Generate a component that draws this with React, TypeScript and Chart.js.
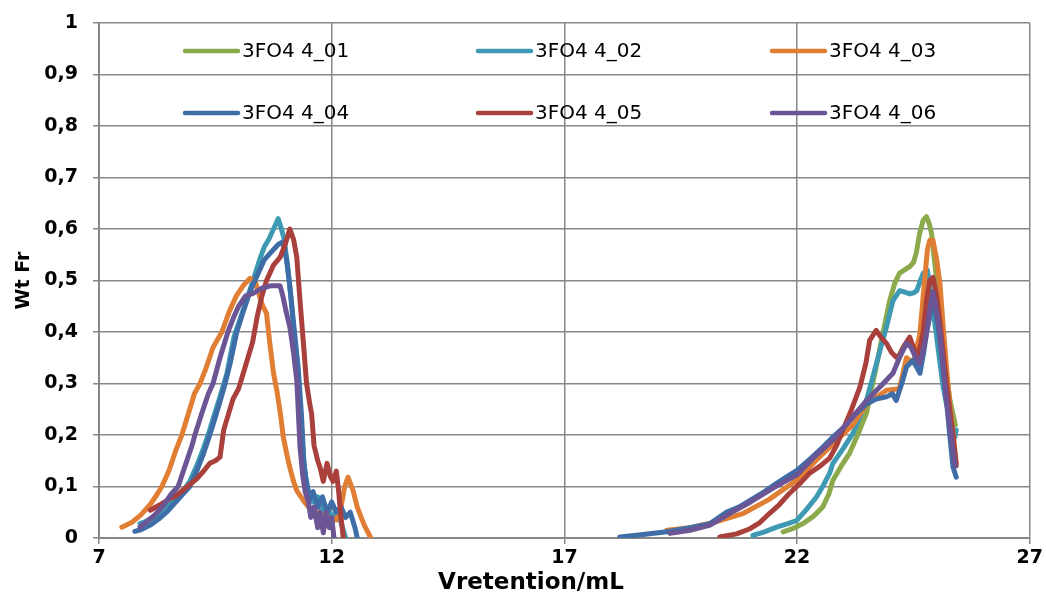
import React, { useEffect, useRef } from "react";
import { Chart, registerables } from "chart.js";

Chart.register(...registerables);

type Pt = [number, number];

const seriesNames = ["3FO4 4_01", "3FO4 4_02", "3FO4 4_03", "3FO4 4_04", "3FO4 4_05", "3FO4 4_06"];
const seriesColors = ["#8AAA4B", "#3E9AB3", "#E07E33", "#3E6DA8", "#A9403C", "#6C5595"];

const xTicks = [7, 12, 17, 22, 27];
const yTicks = [0, 0.1, 0.2, 0.3, 0.4, 0.5, 0.6, 0.7, 0.8, 0.9, 1];
const xTitle = "Vretention/mL";
const yTitle = "Wt Fr";

// 3FO4 4_01
const s01Left: Pt[] = [];
const s01Right: Pt[] = [
  [21.7, 0.012], [21.9, 0.018], [22.13, 0.028], [22.35, 0.042], [22.55, 0.06], [22.68, 0.085],
  [22.77, 0.112], [22.95, 0.14], [23.13, 0.165], [23.3, 0.2], [23.49, 0.242], [23.6, 0.29],
  [23.7, 0.332], [23.85, 0.4], [23.99, 0.461], [24.1, 0.495], [24.2, 0.514], [24.3, 0.52],
  [24.42, 0.527], [24.5, 0.535], [24.56, 0.553], [24.63, 0.59], [24.71, 0.617], [24.78, 0.624],
  [24.84, 0.61], [24.89, 0.591], [24.95, 0.54], [25.0, 0.5], [25.07, 0.43], [25.14, 0.37],
  [25.21, 0.32], [25.28, 0.27], [25.35, 0.24], [25.4, 0.22],
];

// 3FO4 4_02
const s02Left: Pt[] = [
  [7.88, 0.028], [8.0, 0.032], [8.2, 0.042], [8.4, 0.055], [8.6, 0.072], [8.8, 0.09],
  [8.95, 0.11], [9.1, 0.14], [9.25, 0.175], [9.38, 0.21], [9.5, 0.245], [9.62, 0.28],
  [9.75, 0.32], [9.9, 0.39], [10.05, 0.43], [10.2, 0.47], [10.31, 0.5], [10.45, 0.54],
  [10.55, 0.565], [10.65, 0.58], [10.75, 0.6], [10.85, 0.62], [10.92, 0.6], [10.98, 0.58],
  [11.05, 0.53], [11.12, 0.47], [11.2, 0.39], [11.28, 0.3], [11.35, 0.2], [11.42, 0.13],
  [11.5, 0.09], [11.6, 0.07], [11.7, 0.08], [11.8, 0.05], [11.9, 0.06], [12.0, 0.04],
  [12.1, 0.05], [12.2, 0.03], [12.3, 0.0],
];
const s02Right: Pt[] = [
  [21.05, 0.005], [21.3, 0.012], [21.56, 0.021], [21.8, 0.028], [21.99, 0.034], [22.2, 0.055],
  [22.42, 0.08], [22.55, 0.1], [22.7, 0.126], [22.77, 0.145], [23.0, 0.175], [23.2, 0.203],
  [23.35, 0.235], [23.49, 0.267], [23.62, 0.31], [23.78, 0.364], [23.92, 0.41], [24.06, 0.461],
  [24.2, 0.48], [24.3, 0.478], [24.42, 0.474], [24.5, 0.476], [24.57, 0.48], [24.65, 0.5],
  [24.71, 0.514], [24.8, 0.52], [24.88, 0.47], [24.99, 0.397], [25.07, 0.34], [25.14, 0.293],
  [25.21, 0.26], [25.28, 0.235], [25.35, 0.205], [25.39, 0.196], [25.42, 0.21],
];

// 3FO4 4_03
const s03Left: Pt[] = [
  [7.49, 0.021], [7.7, 0.03], [7.9, 0.045], [8.1, 0.065], [8.25, 0.085], [8.35, 0.1],
  [8.5, 0.13], [8.65, 0.17], [8.78, 0.2], [8.95, 0.25], [9.05, 0.28], [9.17, 0.3],
  [9.3, 0.33], [9.45, 0.37], [9.64, 0.4], [9.8, 0.44], [9.95, 0.47], [10.1, 0.49],
  [10.24, 0.504], [10.35, 0.5], [10.45, 0.47], [10.52, 0.45], [10.6, 0.436], [10.67, 0.378],
  [10.75, 0.32], [10.82, 0.287], [10.9, 0.24], [10.96, 0.196], [11.03, 0.165], [11.1, 0.137],
  [11.18, 0.11], [11.25, 0.092], [11.39, 0.073], [11.5, 0.06], [11.7, 0.05], [11.9, 0.04],
  [12.1, 0.035], [12.2, 0.06], [12.28, 0.1], [12.35, 0.118], [12.46, 0.092], [12.55, 0.06],
  [12.6, 0.048], [12.7, 0.025], [12.84, 0.0],
];
const s03Right: Pt[] = [
  [19.2, 0.015], [19.7, 0.02], [20.2, 0.03], [20.85, 0.048], [21.4, 0.075], [21.99, 0.112],
  [22.4, 0.15], [22.8, 0.185], [23.2, 0.22], [23.5, 0.26], [23.92, 0.287], [24.2, 0.29],
  [24.35, 0.35], [24.5, 0.34], [24.64, 0.397], [24.72, 0.48], [24.8, 0.56], [24.85, 0.578],
  [24.92, 0.578], [25.0, 0.54], [25.07, 0.494], [25.14, 0.41], [25.21, 0.332], [25.28, 0.26],
  [25.35, 0.203], [25.42, 0.145],
];

// 3FO4 4_04
const s04Left: Pt[] = [
  [7.77, 0.013], [7.9, 0.016], [8.1, 0.025], [8.3, 0.038], [8.45, 0.05], [8.6, 0.065],
  [8.75, 0.08], [8.95, 0.1], [9.1, 0.13], [9.25, 0.165], [9.38, 0.2], [9.5, 0.235],
  [9.6, 0.265], [9.71, 0.3], [9.82, 0.34], [9.96, 0.4], [10.1, 0.44], [10.25, 0.48],
  [10.4, 0.51], [10.55, 0.54], [10.7, 0.555], [10.85, 0.57], [10.95, 0.575], [11.03, 0.54],
  [11.1, 0.49], [11.2, 0.4], [11.28, 0.33], [11.35, 0.24], [11.4, 0.15], [11.45, 0.11],
  [11.53, 0.075], [11.6, 0.09], [11.7, 0.06], [11.8, 0.08], [11.9, 0.05], [12.0, 0.07],
  [12.1, 0.05], [12.2, 0.06], [12.3, 0.04], [12.4, 0.05], [12.5, 0.02], [12.55, 0.0],
];
const s04Right: Pt[] = [
  [18.19, 0.002], [18.6, 0.006], [19.2, 0.012], [19.7, 0.02], [20.13, 0.028], [20.48, 0.05],
  [20.75, 0.06], [20.99, 0.073], [21.3, 0.09], [21.56, 0.106], [21.8, 0.12], [21.99, 0.131],
  [22.3, 0.155], [22.55, 0.176], [22.77, 0.196], [23.0, 0.215], [23.25, 0.24], [23.49, 0.26],
  [23.7, 0.27], [23.92, 0.274], [24.05, 0.28], [24.13, 0.267], [24.25, 0.3], [24.35, 0.332],
  [24.49, 0.345], [24.58, 0.33], [24.64, 0.32], [24.72, 0.36], [24.78, 0.397], [24.85, 0.43],
  [24.92, 0.461], [24.98, 0.44], [25.07, 0.384], [25.14, 0.33], [25.21, 0.267], [25.28, 0.2],
  [25.35, 0.138], [25.42, 0.118],
];

// 3FO4 4_05
const s05Left: Pt[] = [
  [8.1, 0.054], [8.3, 0.064], [8.5, 0.075], [8.67, 0.083], [8.9, 0.1], [9.1, 0.115],
  [9.25, 0.13], [9.38, 0.145], [9.5, 0.15], [9.6, 0.157], [9.68, 0.21], [9.78, 0.24],
  [9.88, 0.27], [10.0, 0.29], [10.1, 0.32], [10.2, 0.35], [10.3, 0.38], [10.4, 0.43],
  [10.5, 0.47], [10.6, 0.5], [10.75, 0.53], [10.89, 0.545], [11.0, 0.57], [11.1, 0.6],
  [11.18, 0.58], [11.25, 0.545], [11.32, 0.46], [11.4, 0.37], [11.46, 0.3], [11.53, 0.26],
  [11.57, 0.24], [11.62, 0.18], [11.7, 0.15], [11.75, 0.137], [11.82, 0.11], [11.9, 0.145],
  [11.97, 0.12], [12.03, 0.11], [12.1, 0.13], [12.15, 0.09], [12.2, 0.04], [12.25, 0.0],
];
const s05Right: Pt[] = [
  [20.34, 0.002], [20.7, 0.008], [20.99, 0.018], [21.2, 0.03], [21.41, 0.048], [21.62, 0.065],
  [21.84, 0.087], [22.05, 0.105], [22.27, 0.126], [22.5, 0.14], [22.7, 0.155], [22.85, 0.18],
  [22.98, 0.209], [23.15, 0.245], [23.35, 0.293], [23.48, 0.34], [23.56, 0.384], [23.7, 0.403],
  [23.8, 0.39], [23.92, 0.378], [24.03, 0.36], [24.13, 0.351], [24.2, 0.355], [24.28, 0.37],
  [24.42, 0.39], [24.5, 0.37], [24.6, 0.35], [24.71, 0.4], [24.78, 0.46], [24.85, 0.5],
  [24.92, 0.506], [25.0, 0.47], [25.07, 0.42], [25.14, 0.36], [25.21, 0.3], [25.28, 0.25],
  [25.35, 0.2], [25.42, 0.14],
];

// 3FO4 4_06
const s06Left: Pt[] = [
  [7.88, 0.021], [8.0, 0.03], [8.2, 0.045], [8.4, 0.065], [8.55, 0.085], [8.7, 0.1],
  [8.85, 0.14], [9.0, 0.18], [9.06, 0.2], [9.2, 0.24], [9.35, 0.28], [9.45, 0.3],
  [9.6, 0.35], [9.77, 0.4], [9.9, 0.43], [10.0, 0.45], [10.15, 0.47], [10.31, 0.475],
  [10.5, 0.485], [10.7, 0.49], [10.89, 0.49], [10.95, 0.47], [11.02, 0.44], [11.1, 0.41],
  [11.18, 0.36], [11.25, 0.306], [11.32, 0.176], [11.38, 0.12], [11.43, 0.09], [11.5, 0.07],
  [11.55, 0.04], [11.62, 0.06], [11.7, 0.02], [11.75, 0.05], [11.82, 0.01], [11.88, 0.05],
  [11.95, 0.02], [12.0, 0.04], [12.05, 0.0],
];
const s06Right: Pt[] = [
  [19.27, 0.009], [19.7, 0.015], [20.13, 0.025], [20.5, 0.045], [21.0, 0.07], [21.5, 0.098],
  [21.99, 0.122], [22.4, 0.16], [22.77, 0.19], [23.1, 0.225], [23.49, 0.267], [23.8, 0.295],
  [24.06, 0.32], [24.2, 0.35], [24.35, 0.378], [24.45, 0.37], [24.55, 0.35], [24.64, 0.339],
  [24.72, 0.37], [24.78, 0.397], [24.86, 0.45], [24.92, 0.478], [24.98, 0.45], [25.07, 0.397],
  [25.14, 0.33], [25.21, 0.267], [25.28, 0.22], [25.35, 0.17], [25.4, 0.14],
];

const leftParts = [s01Left, s02Left, s03Left, s04Left, s05Left, s06Left];
const rightParts = [s01Right, s02Right, s03Right, s04Right, s05Right, s06Right];

const GRID = "#878787";
const FONT = "'DejaVu Sans', 'Liberation Sans', sans-serif";

const legendPlugin = {
  id: "insideLegend",
  afterDraw(chart: any) {
    const ctx = chart.ctx as CanvasRenderingContext2D;
    const cols = [185, 478, 772];
    const rows = [51, 113];
    ctx.save();
    ctx.font = `20px ${FONT}`;
    ctx.textBaseline = "middle";
    ctx.textAlign = "left";
    seriesNames.forEach((name, i) => {
      const x0 = cols[i % 3];
      const y0 = rows[Math.floor(i / 3)];
      ctx.strokeStyle = seriesColors[i];
      ctx.lineWidth = 4.5;
      ctx.lineCap = "round";
      ctx.beginPath();
      ctx.moveTo(x0, y0);
      ctx.lineTo(x0 + 53, y0);
      ctx.stroke();
      ctx.fillStyle = "#000";
      ctx.fillText(name, x0 + 57, y0 + 1);
    });
    // x axis title
    ctx.font = `bold 23px ${FONT}`;
    ctx.textAlign = "center";
    ctx.fillText(xTitle, 531, 583);
    ctx.restore();
  },
};

export default function App() {
  const ref = useRef<HTMLCanvasElement | null>(null);

  useEffect(() => {
    document.body.style.margin = "0";
    const canvas = ref.current;
    if (!canvas) return;

    const datasets = seriesNames.map((name, i) => {
      const data: { x: number; y: number | null }[] = [
        ...leftParts[i].map(([x, y]) => ({ x, y })),
        { x: 15, y: null },
        ...rightParts[i].map(([x, y]) => ({ x, y })),
      ];
      return {
        label: name,
        data,
        borderColor: seriesColors[i],
        backgroundColor: seriesColors[i],
        borderWidth: 5,
        pointRadius: 0,
        tension: 0,
        spanGaps: false,
        borderCapStyle: "round" as const,
        borderJoinStyle: "round" as const,
        order: seriesNames.length - 1 - i,
      };
    });

    const chart = new Chart(canvas, {
      type: "line",
      data: { datasets },
      plugins: [legendPlugin],
      options: {
        animation: false,
        responsive: false,
        layout: { padding: { top: 23, right: 16, left: 0, bottom: 0 } },
        plugins: { legend: { display: false }, tooltip: { enabled: false } },
        scales: {
          x: {
            type: "linear",
            min: xTicks[0],
            max: xTicks[xTicks.length - 1],
            afterBuildTicks: (scale: any) => {
              scale.ticks = xTicks.map((v) => ({ value: v }));
            },
            afterFit: (scale: any) => {
              scale.height = 65;
            },
            ticks: {
              color: "#000",
              font: { family: FONT, size: 19, weight: "bold" },
              padding: 3,
              maxRotation: 0,
              callback: (v: any) => String(v),
            },
            grid: { color: GRID, lineWidth: 1.5, tickLength: 6, tickColor: GRID },
            border: { color: GRID, width: 2 },
            title: { display: false, text: xTitle },
          },
          y: {
            type: "linear",
            min: 0,
            max: 1,
            afterBuildTicks: (scale: any) => {
              scale.ticks = yTicks.map((v) => ({ value: v }));
            },
            afterFit: (scale: any) => {
              scale.width = 99;
              scale.paddingTop = 0;
              scale.paddingBottom = 0;
            },
            ticks: {
              color: "#000",
              font: { family: FONT, size: 19, weight: "bold" },
              padding: 15,
              callback: (v: any) => String(Math.round(Number(v) * 10) / 10).replace(".", ","),
            },
            grid: { color: GRID, lineWidth: 1.5, tickLength: 6, tickColor: GRID },
            border: { color: GRID, width: 2 },
            title: {
              display: true,
              text: yTitle,
              color: "#000",
              font: { family: FONT, size: 19, weight: "bold" },
              padding: { top: 13, bottom: 0 },
            },
          },
        },
      },
    });

    return () => chart.destroy();
  }, []);

  return (
    <div style={{ width: 1046, height: 603, background: "#fff" }}>
      <canvas ref={ref} width={1046} height={603} style={{ width: 1046, height: 603, display: "block" }} />
    </div>
  );
}
